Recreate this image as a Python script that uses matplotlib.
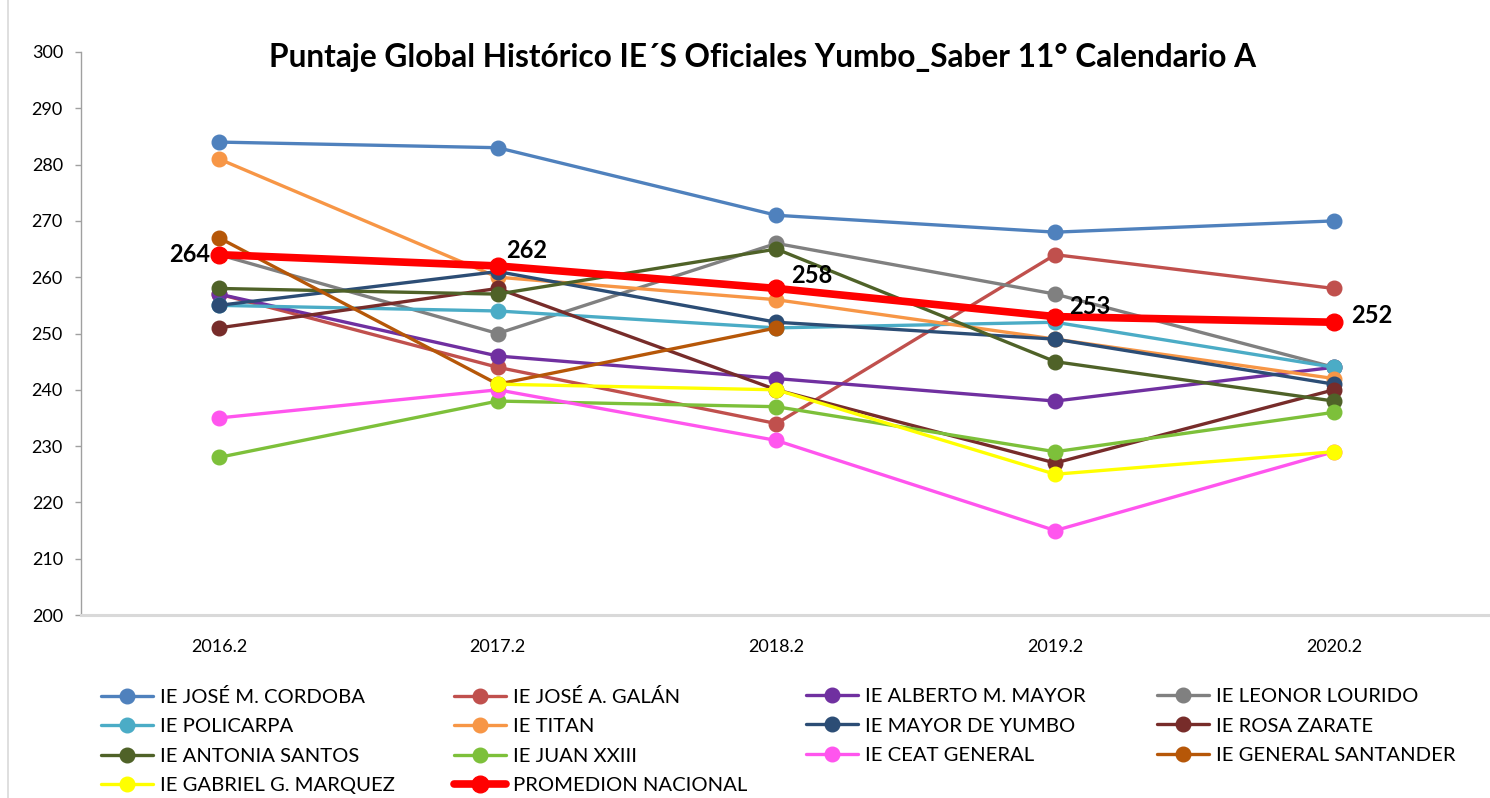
import matplotlib
matplotlib.use("Agg")
import matplotlib.pyplot as plt
import numpy as np
from matplotlib.lines import Line2D

plt.rcParams['font.family'] = ['Lato', 'DejaVu Sans']

years = ["2016.2", "2017.2", "2018.2", "2019.2", "2020.2"]
nan = np.nan

cordoba   = [284, 283, 271, 268, 270]
galan     = [257, 244, 234, 264, 258]
alberto   = [257, 246, 242, 238, 244]
leonor    = [264, 250, 266, 257, 244]
policarpa = [255, 254, 251, 252, 244]
titan     = [281, 260, 256, 249, 242]
mayor     = [255, 261, 252, 249, 241]
rosa      = [251, 258, 240, 227, 240]
antonia   = [258, 257, 265, 245, 238]
juan      = [228, 238, 237, 229, 236]
ceat      = [235, 240, 231, 215, 229]
santander = [267, 241, 251, nan, nan]
gabriel   = [nan, 241, 240, 225, 229]
promedio  = [264, 262, 258, 253, 252]

names = ["IE JOSÉ M. CORDOBA", "IE JOSÉ A. GALÁN", "IE ALBERTO M. MAYOR", "IE LEONOR LOURIDO",
         "IE POLICARPA", "IE TITAN", "IE MAYOR DE YUMBO", "IE ROSA ZARATE",
         "IE ANTONIA SANTOS", "IE JUAN XXIII", "IE CEAT GENERAL", "IE GENERAL SANTANDER",
         "IE GABRIEL G. MARQUEZ", "PROMEDION NACIONAL"]
series = [cordoba, galan, alberto, leonor, policarpa, titan, mayor, rosa,
          antonia, juan, ceat, santander, gabriel, promedio]
colors = ["#4F81BD", "#C0504D", "#7030A0", "#808080",
          "#4BACC6", "#F79646", "#2C4D75", "#772C2A",
          "#4F6228", "#7DC03A", "#FF55EE", "#B65708",
          "#FFFF00", "#FF0000"]

fig = plt.figure(figsize=(14.9, 7.98), dpi=100)
ax = fig.add_axes([81/1490, 1-615/798, 1-81/1490, (615-52)/798])

x = np.arange(len(years))
handles = []
for i, (nm, s, c) in enumerate(zip(names, series, colors)):
    s = np.array(s, dtype=float)
    if nm == "PROMEDION NACIONAL":
        lw, ms = 5.5, 12
    else:
        lw, ms = 2.4, 10.5
    h, = ax.plot(x, s, color=c, lw=lw, marker='o', ms=ms, label=nm, zorder=2 + i * 0.01,
                 solid_capstyle='round')
    handles.append(h)

offsets = [((-6.5, 0), 'right'), ((21.2, 10.8), 'center'), ((25.6, 9), 'center'),
           ((25.2, 7.2), 'center'), ((27.4, 4.5), 'center')]
for xi, v, (off, ha) in zip(x, promedio, offsets):
    ax.annotate(f"{v}", (xi, v), xytext=off, textcoords='offset points',
                ha=ha, va='center', fontsize=17, fontweight='bold', color='black', zorder=5)

ax.set_ylim(200, 300)
ax.set_yticks(np.arange(200, 301, 10))
ax.set_xlim(-0.495, 4.56)
ax.set_xticks(x)
ax.set_xticklabels(years)
ax.tick_params(axis='x', length=0, pad=17, labelsize=13)
ax.tick_params(axis='y', length=4, width=1, color='#A0A0A0', pad=9, labelsize=13)
for sp in ['top', 'right']:
    ax.spines[sp].set_visible(False)
ax.spines['left'].set_color('#A0A0A0')
ax.spines['left'].set_linewidth(1)
ax.spines['bottom'].set_color('#D9D9D9')
ax.spines['bottom'].set_linewidth(2.2)

fig.text(763/1490, 1-57/798, "Puntaje Global Histórico IE´S Oficiales Yumbo_Saber 11° Calendario A",
         ha='center', va='center', fontsize=22.8, fontweight='bold')

# legend: one legend per column, placed at fixed column positions
columns = [[0, 4, 8, 12], [1, 5, 9, 13], [2, 6, 10], [3, 7, 11]]
col_x = [101, 454, 806, 1157]
for cols, cx in zip(columns, col_x):
    fig.legend([handles[i] for i in cols], [names[i] for i in cols],
               loc='upper left', bbox_to_anchor=(cx/1490, 1-688/798), ncol=1,
               frameon=False, fontsize=14.6, handlelength=2.56, handletextpad=0.35,
               labelspacing=0.6, borderaxespad=0, borderpad=0)

fig.add_artist(Line2D([8/1490, 8/1490], [0, 1], transform=fig.transFigure, color='#D9D9D9', lw=1.2))

fig.savefig("out.png", dpi=100)
